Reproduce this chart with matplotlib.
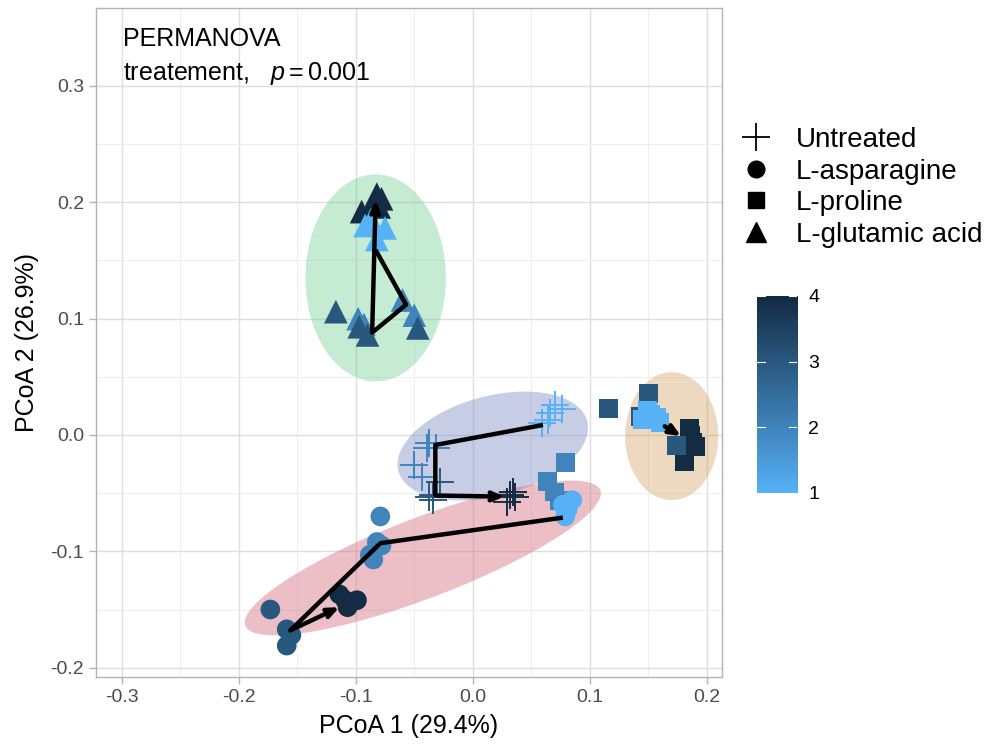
import matplotlib
matplotlib.use("Agg")
import matplotlib.pyplot as plt
import numpy as np
from matplotlib.patches import Ellipse
from matplotlib.lines import Line2D
from matplotlib.colors import LinearSegmentedColormap, Normalize

plt.rcParams['font.family'] = ['Liberation Sans', 'DejaVu Sans']
plt.rcParams['mathtext.fontset'] = 'custom'
plt.rcParams['mathtext.rm'] = 'Liberation Sans'
plt.rcParams['mathtext.it'] = 'Liberation Sans:italic'

# ---------------- data ----------------
treatments = ["Untreated", "L-asparagine", "L-proline", "L-glutamic acid"]
markers = ["+", "o", "s", "^"]

untreated_x = [0.032, 0.036, 0.029, 0.034, 0.070, 0.076, 0.066, 0.064, 0.059,
               -0.037, -0.039, -0.031, -0.050, -0.043, -0.034, -0.028, -0.037, -0.034]
untreated_y = [-0.052, -0.053, -0.058, -0.049, 0.026, 0.022, 0.019, 0.013, 0.010,
               -0.007, -0.011, -0.011, -0.026, -0.036, -0.052, -0.040, -0.053, -0.056]
untreated_t = [4, 4, 4, 4, 1, 1, 1, 1, 1, 2, 2, 2, 2, 2, 3, 3, 3, 3]

proline_x = [0.185, 0.190, 0.181, 0.188, 0.186, 0.116, 0.150, 0.174, 0.143,
             0.149, 0.157, 0.160, 0.152, 0.145, 0.079, 0.064, 0.070, 0.074]
proline_y = [0.006, -0.010, -0.023, -0.006, 0.000, 0.023, 0.036, -0.009, 0.016,
             0.021, 0.015, 0.011, 0.018, 0.013, -0.024, -0.040, -0.049, -0.056]
proline_t = [4, 4, 4, 4, 4, 3, 3, 3, 3, 1, 1, 1, 1, 1, 2, 2, 2, 2]

asparagine_x = [0.077, 0.085, 0.079, 0.081, -0.079, -0.082, -0.078, -0.085, -0.088,
                -0.173, -0.159, -0.155, -0.159, -0.114, -0.109, -0.099, -0.107]
asparagine_y = [-0.060, -0.056, -0.070, -0.064, -0.070, -0.092, -0.095, -0.107, -0.103,
                -0.150, -0.167, -0.172, -0.181, -0.137, -0.142, -0.142, -0.148]
asparagine_t = [1, 1, 1, 1, 2, 2, 2, 2, 2, 3, 3, 3, 3, 4, 4, 4, 4]

glutamic_x = [-0.082, -0.078, -0.085, -0.095, -0.080, -0.092, -0.075, -0.082, -0.087,
              -0.060, -0.050, -0.098, -0.093, -0.117, -0.090, -0.047, -0.097]
glutamic_y = [0.207, 0.203, 0.200, 0.192, 0.196, 0.180, 0.178, 0.168, 0.185,
              0.116, 0.103, 0.100, 0.095, 0.106, 0.086, 0.092, 0.093]
glutamic_t = [4, 4, 4, 4, 4, 1, 1, 1, 1, 2, 2, 2, 2, 3, 3, 3, 3]

# centroid trajectories (time 1 -> 4)
path_untreated = [(0.060, 0.0086), (-0.032, -0.0086), (-0.032, -0.052), (0.027, -0.053)]
path_asparagine = [(0.077, -0.071), (-0.079, -0.093), (-0.156, -0.168), (-0.114, -0.148)]
path_proline = [(0.164, 0.0075), (0.178, -0.001)]
path_glutamic = [(-0.083, 0.159), (-0.057, 0.112), (-0.086, 0.088), (-0.083, 0.202)]

# ellipses: centre x, centre y, width, height, angle
ell_untreated = (0.0171, -0.0095, 0.167, 0.086, 15)
ell_asparagine = (-0.0427, -0.1057, 0.325, 0.069, 21)
ell_proline = (0.170, -0.001, 0.0795, 0.110, 0)
ell_glutamic = (-0.083, 0.135, 0.120, 0.178, 0)
ell_colors = ["#7584C0", "#CD6170", "#D2A061", "#6ECD93"]

x_ticks = [-0.3, -0.2, -0.1, 0.0, 0.1, 0.2]
y_ticks = [-0.2, -0.1, 0.0, 0.1, 0.2, 0.3]

# ---------------- figure ----------------
cmap = LinearSegmentedColormap.from_list("tp", ["#56B1F7", "#132B43"])
norm = Normalize(1, 4)

fig = plt.figure(figsize=(9.88, 7.45), dpi=100)
ax = fig.add_axes([96/988, 1-677/745, (722-96)/988, (677-8)/745])
ax.set_xlim(-0.322, 0.213)
ax.set_ylim(-0.208, 0.367)

for (cx, cy, w, h, a), c in zip([ell_untreated, ell_asparagine, ell_proline, ell_glutamic], ell_colors):
    ax.add_patch(Ellipse((cx, cy), w, h, angle=a, facecolor=c, alpha=0.4,
                         edgecolor='none', zorder=1))

def pts(xs, ys, ts, m, s):
    for x, y, t in zip(xs, ys, ts):
        col = cmap(norm(t))
        if m == '+':
            ax.scatter([x], [y], marker=m, s=s, color=col, linewidths=1.4, zorder=3)
        else:
            ax.scatter([x], [y], marker=m, s=s, color=col, edgecolors='none', zorder=3)

pts(untreated_x, untreated_y, untreated_t, '+', 420)
pts(proline_x, proline_y, proline_t, 's', 185)
pts(asparagine_x, asparagine_y, asparagine_t, 'o', 200)
pts(glutamic_x, glutamic_y, glutamic_t, '^', 290)

for path in [path_untreated, path_asparagine, path_proline, path_glutamic]:
    xs = [p[0] for p in path]
    ys = [p[1] for p in path]
    if len(path) > 2:
        ax.plot(xs[:-1], ys[:-1], color='black', lw=3.2, zorder=4, solid_capstyle='butt')
    ax.annotate("", xy=path[-1], xytext=path[-2],
                arrowprops=dict(arrowstyle="->,head_length=0.65,head_width=0.28",
                                color='black', lw=3.2, shrinkA=0, shrinkB=0),
                zorder=4)

# theme
ax.set_xticks(x_ticks)
ax.set_yticks(y_ticks)
ax.set_xticklabels([f"{v:.1f}" for v in x_ticks])
ax.set_yticklabels([f"{v:.1f}" for v in y_ticks])
ax.set_xticks([(a + b) / 2 for a, b in zip(x_ticks[:-1], x_ticks[1:])], minor=True)
ax.set_yticks([(a + b) / 2 for a, b in zip(y_ticks[:-1], y_ticks[1:])], minor=True)
ax.grid(which='major', color='#DEDEDE', lw=1.0, zorder=0)
ax.grid(which='minor', color='#EEEEEE', lw=0.7, zorder=0)
ax.set_axisbelow(True)
ax.tick_params(which='major', length=5, color='#B3B3B3', labelcolor='#4D4D4D', labelsize=14, width=1)
ax.tick_params(which='minor', length=0)
for s in ax.spines.values():
    s.set_color('#B3B3B3')
    s.set_linewidth(1.0)
ax.set_xlabel("PCoA 1 (29.4%)", fontsize=18, labelpad=6)
ax.set_ylabel("PCoA 2 (26.9%)", fontsize=18, labelpad=8)

ax.text(0.043, 0.971, "PERMANOVA", transform=ax.transAxes, fontsize=18, va='top', ha='left')
ax.text(0.043, 0.923, r"treatement,   $p = \mathrm{0.001}$", transform=ax.transAxes,
        fontsize=18, va='top', ha='left')

# legend for shapes
handles = [Line2D([], [], marker='+', color='black', ls='none', markersize=20, markeredgewidth=1.3),
           Line2D([], [], marker='o', color='black', ls='none', markersize=12),
           Line2D([], [], marker='s', color='black', ls='none', markersize=11),
           Line2D([], [], marker='^', color='black', ls='none', markersize=14)]
fig.legend(handles, treatments, loc='upper left', bbox_to_anchor=(742/988, 1-127/745),
           frameon=False, fontsize=20, handlelength=1.0, handletextpad=0.95,
           labelspacing=0.2, borderpad=0, borderaxespad=0)

# colour bar
cax = fig.add_axes([757/988, 1-493/745, 40/988, 197/745])
grad = np.linspace(1, 4, 256).reshape(-1, 1)
cax.imshow(grad, aspect='auto', cmap=cmap, norm=norm, origin='lower', extent=[0, 1, 1, 4])
cax.set_xlim(0, 1)
cax.set_ylim(1, 4)
cax.set_xticks([])
cax.yaxis.tick_right()
cax.set_yticks([1, 2, 3, 4])
cax.tick_params(axis='y', length=0, labelsize=14, pad=8, labelcolor='black')
for v in [1, 2, 3, 4]:
    cax.plot([0, 0.2], [v, v], color='white', lw=0.8)
    cax.plot([0.8, 1], [v, v], color='white', lw=0.8)
for s in cax.spines.values():
    s.set_visible(False)

fig.savefig("out.png", dpi=100)
